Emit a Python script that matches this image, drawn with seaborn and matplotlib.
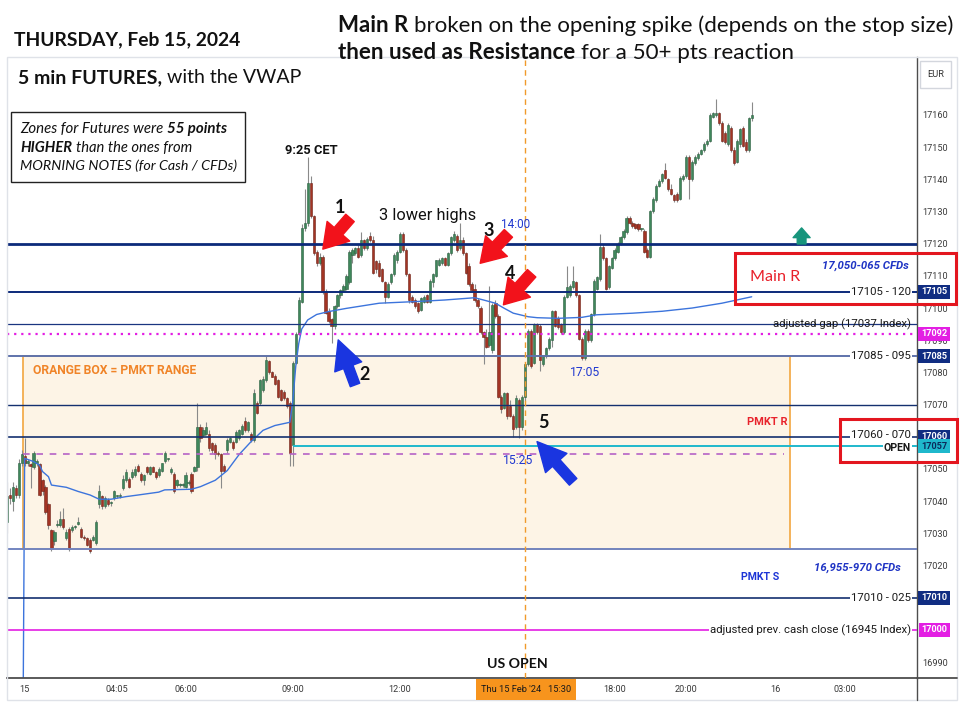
import matplotlib
matplotlib.use("Agg")
import matplotlib.pyplot as plt
from matplotlib.patches import Rectangle
from matplotlib.lines import Line2D
import matplotlib.transforms as mtransforms
import numpy as np
import pandas as pd
import seaborn as sns

# 5-min FDAX bars, Thu 15 Feb 2024, first bar 01:00 CET
open_ = [
    17033.5, 17042, 17040, 17044, 17042, 17052, 17054, 17052, 17051.5, 17050.5,
    17052, 17051.5, 17046.5, 17044.5, 17039, 17031, 17027.5, 17032.5, 17032.5, 17034.5,
    17028.5, 17031.5, 17031, 17032, 17033, 17031.5, 17029, 17028.5, 17028, 17028,
    17027, 17039, 17041.5, 17038.5, 17040.5, 17039.5, 17041, 17041.5, 17041.5, 17044,
    17046.5, 17047, 17047.5, 17048, 17051, 17048.5, 17046.5, 17050.5, 17048.5, 17050.5,
    17049, 17048, 17049.5, 17052.5, 17053, 17049, 17048.5, 17045, 17045, 17045,
    17044.5, 17045.5, 17048.5, 17049.5, 17050.5, 17063, 17060.5, 17061, 17061, 17058,
    17057.5, 17055, 17054.5, 17051, 17056, 17058.5, 17058.5, 17058.5, 17059.5, 17061,
    17065, 17062, 17061, 17059, 17070.5, 17070.5, 17074.5, 17077.5, 17083.5, 17080,
    17079, 17077.5, 17074.5, 17074, 17072, 17070.5, 17057.5, 17083, 17092, 17102,
    17125, 17126.5, 17139, 17128.5, 17117.5, 17114, 17116, 17105, 17099, 17096.5,
    17094.5, 17100.5, 17104, 17105.5, 17106, 17108, 17116.5, 17117, 17118.5, 17116.5,
    17121, 17118.5, 17122.5, 17121, 17114.5, 17114, 17112, 17108, 17103.5, 17108,
    17110.5, 17115, 17117.5, 17123, 17118, 17110.5, 17103.5, 17102.5, 17101.5, 17099.5,
    17102, 17104, 17102, 17108, 17110, 17113.5, 17114, 17115.5, 17113.5, 17117,
    17121, 17122.5, 17118.5, 17121, 17117, 17113, 17107.5, 17106, 17102.5, 17100,
    17092.5, 17091, 17088.5, 17087, 17101.5, 17097.5, 17072.5, 17069, 17073.5, 17069.5,
    17066.5, 17063, 17071.5, 17063, 17072.5, 17082.5, 17093, 17083, 17095, 17094.5,
    17082.5, 17085, 17087.5, 17090, 17099, 17097, 17095, 17092.5, 17103.5, 17104,
    17106.5, 17108, 17104, 17090.5, 17084.5, 17093, 17090, 17098, 17106, 17109,
    17119, 17115.5, 17106.5, 17112.5, 17115.5, 17117.5, 17120, 17122, 17123.5, 17128,
    17126.5, 17126, 17126, 17124.5, 17124, 17118, 17116, 17130, 17133.5, 17138,
    17139.5, 17143, 17140, 17137, 17135, 17135.5, 17134, 17140, 17141, 17147,
    17140, 17145, 17146.5, 17148, 17149, 17151, 17152, 17159.5, 17160, 17160.5,
    17157.5, 17154.5, 17151, 17156, 17149, 17145.5, 17151, 17156, 17151.5, 17149,
    17159,
]
high = [
    17046, 17044, 17046, 17045, 17053, 17056, 17059.5, 17053, 17052, 17055.5,
    17053, 17052, 17047, 17045, 17039.5, 17031.5, 17031, 17034, 17037, 17038,
    17031.5, 17032, 17032.5, 17032.5, 17035, 17032, 17029.5, 17029, 17028.5, 17029.5,
    17034, 17045, 17042, 17041.5, 17041, 17040, 17043.5, 17042, 17042.5, 17048,
    17050, 17047.5, 17050, 17051, 17051.5, 17049, 17048.5, 17051, 17051, 17051,
    17049.5, 17050.5, 17052, 17055.5, 17053.5, 17050.5, 17049, 17047, 17045.5, 17045.5,
    17049, 17046.5, 17049, 17051, 17070.5, 17064, 17063, 17064.5, 17062, 17058.5,
    17058, 17055.5, 17055, 17051.5, 17059.5, 17060, 17059, 17062, 17062.5, 17064,
    17066, 17065, 17061.5, 17075, 17071, 17078, 17079, 17085, 17084, 17080.5,
    17079.5, 17078, 17075, 17074.5, 17072.5, 17071, 17083.5, 17092.5, 17103.5, 17126,
    17137, 17147, 17141, 17129, 17118, 17117, 17116.5, 17106, 17100, 17097,
    17101, 17104.5, 17106, 17107.5, 17110.5, 17118, 17118.5, 17119, 17119.5, 17123.5,
    17121.5, 17122, 17123.5, 17122.5, 17115, 17115, 17112.5, 17108.5, 17108, 17111,
    17117, 17118, 17123.5, 17123.5, 17118.5, 17111, 17104, 17103, 17102, 17103.5,
    17104, 17104.5, 17109, 17111, 17115, 17115.5, 17116, 17116, 17117.5, 17122.5,
    17124, 17123, 17126.5, 17122, 17117.5, 17114, 17108, 17107.5, 17103, 17100.5,
    17093, 17093.5, 17107, 17101.5, 17102.5, 17098, 17073, 17074, 17074, 17071.5,
    17067, 17073, 17072, 17073, 17083, 17093.5, 17093.5, 17095.5, 17095.5, 17095,
    17085.5, 17088, 17091, 17099.5, 17099.5, 17097.5, 17095.5, 17104, 17113, 17107.5,
    17113, 17108.5, 17104.5, 17091, 17093.5, 17093.5, 17098.5, 17109, 17110, 17123,
    17120, 17116, 17113.5, 17116, 17118.5, 17120.5, 17122.5, 17124.5, 17128.5, 17128.5,
    17127, 17126.5, 17126.5, 17125, 17124.5, 17118.5, 17130.5, 17134.5, 17138.5, 17140,
    17142, 17145, 17140.5, 17138.5, 17135.5, 17136, 17141, 17141.5, 17147.5, 17147.5,
    17146, 17147.5, 17148.5, 17149.5, 17151.5, 17152.5, 17160.5, 17161, 17165, 17161,
    17158, 17155, 17157.5, 17156.5, 17150, 17152.5, 17156, 17156.5, 17152.5, 17159.5,
    17164,
]
low = [
    17030, 17039, 17037, 17041, 17041, 17051, 17051, 17051, 17044, 17050,
    17051, 17041.5, 17042, 17036, 17031.5, 17024.5, 17026.5, 17032, 17032, 17031.5,
    17028, 17024.5, 17030.5, 17031.5, 17032.5, 17028.5, 17028, 17026, 17024, 17027.5,
    17026.5, 17038, 17037.5, 17038, 17038.5, 17038.5, 17040.5, 17041, 17041, 17043.5,
    17046, 17044, 17047, 17047.5, 17049, 17046, 17045, 17048.5, 17048, 17049,
    17047, 17047.5, 17049, 17052, 17052.5, 17048.5, 17042.5, 17044.5, 17044.5, 17044.5,
    17044, 17045, 17042.5, 17049, 17049.5, 17058.5, 17060, 17060.5, 17055.5, 17055,
    17053, 17054, 17044, 17049, 17055, 17058, 17056, 17058, 17059, 17060.5,
    17061.5, 17061.5, 17058.5, 17058.5, 17067, 17070, 17074, 17077, 17079.5, 17078.5,
    17076, 17072, 17071, 17071.5, 17069, 17051, 17051, 17082.5, 17091.5, 17101.5,
    17124, 17125.5, 17128, 17116.5, 17113, 17113.5, 17104.5, 17098, 17095.5, 17089,
    17093.5, 17100, 17103, 17105, 17105.5, 17107.5, 17114, 17116.5, 17115.5, 17116,
    17118, 17118, 17120.5, 17110.5, 17111, 17109.5, 17108, 17101.5, 17103, 17107.5,
    17110, 17114, 17117, 17117.5, 17110, 17101.5, 17101.5, 17100, 17098.5, 17099,
    17101.5, 17101.5, 17101.5, 17106.5, 17109.5, 17113, 17113.5, 17113, 17113, 17116.5,
    17120.5, 17117.5, 17118, 17116.5, 17110.5, 17107, 17105, 17102, 17100, 17092,
    17082.5, 17087.5, 17088, 17086, 17097, 17072, 17067.5, 17068.5, 17065.5, 17066,
    17060, 17062.5, 17059.5, 17062, 17071, 17082, 17081.5, 17082.5, 17092, 17080.5,
    17082, 17084.5, 17087, 17088, 17094, 17093.5, 17092, 17092, 17103, 17103.5,
    17106, 17103.5, 17090, 17084, 17084, 17089.5, 17089.5, 17097.5, 17105.5, 17108.5,
    17115, 17105.5, 17106, 17112, 17115, 17117, 17119.5, 17121.5, 17123, 17126,
    17125, 17124.5, 17124, 17124, 17117, 17115.5, 17115.5, 17129.5, 17133, 17137.5,
    17139, 17140, 17136.5, 17135, 17133, 17133, 17133.5, 17139.5, 17140.5, 17134,
    17139.5, 17144.5, 17146, 17147.5, 17148.5, 17150.5, 17151.5, 17159, 17159.5, 17157,
    17151.5, 17151, 17150.5, 17148.5, 17144.5, 17145, 17150, 17150, 17148.5, 17148.5,
    17158,
]
close = [
    17041.5, 17041, 17044.5, 17042, 17052, 17054.5, 17052, 17052.5, 17051, 17055,
    17052, 17042, 17043, 17036.5, 17032.5, 17025, 17030.5, 17033, 17034.5, 17032,
    17030.5, 17025, 17032, 17032, 17033.5, 17029, 17028.5, 17026.5, 17024.5, 17029,
    17033.5, 17043, 17038.5, 17041, 17039, 17039.5, 17043, 17041.5, 17042, 17047,
    17049, 17044.5, 17049, 17050, 17049.5, 17046.5, 17048, 17049, 17050.5, 17049,
    17047.5, 17050, 17052, 17055, 17053, 17050, 17043, 17046.5, 17045, 17045,
    17048, 17045.5, 17043, 17050.5, 17063, 17059.5, 17062, 17063, 17056.5, 17056,
    17054.5, 17054.5, 17049.5, 17049.5, 17059, 17059.5, 17056.5, 17061.5, 17062, 17063.5,
    17062, 17064.5, 17059, 17073.5, 17067.5, 17077.5, 17078, 17084, 17080, 17078.5,
    17076.5, 17072.5, 17071.5, 17072, 17069.5, 17055, 17083, 17092, 17102.5, 17125,
    17126.5, 17139, 17128.5, 17117, 17114, 17116, 17105, 17098.5, 17096, 17094.5,
    17100.5, 17104, 17105.5, 17107, 17110, 17117.5, 17118, 17118.5, 17116, 17121,
    17118.5, 17121.5, 17121, 17111, 17112, 17110, 17108.5, 17103.5, 17107.5, 17110.5,
    17116.5, 17117.5, 17123, 17118, 17110.5, 17102.5, 17102, 17100.5, 17099, 17103,
    17103.5, 17102, 17108.5, 17110.5, 17115, 17115, 17115.5, 17113.5, 17117, 17122,
    17123, 17118, 17121, 17117, 17111, 17107.5, 17105.5, 17102.5, 17100.5, 17092.5,
    17091, 17088, 17092.5, 17101, 17097.5, 17072.5, 17068.5, 17073.5, 17066.5, 17066.5,
    17062.5, 17072, 17063, 17072.5, 17082.5, 17093, 17082, 17095, 17092.5, 17084,
    17085, 17087.5, 17090.5, 17099, 17094.5, 17094, 17092.5, 17103.5, 17106.5, 17107,
    17108.5, 17104, 17090.5, 17084.5, 17093, 17090, 17098, 17108.5, 17109.5, 17119,
    17115.5, 17106, 17113, 17115.5, 17118, 17120, 17122, 17124, 17128, 17126.5,
    17125.5, 17125, 17124.5, 17124.5, 17117.5, 17116, 17130, 17134, 17138, 17139.5,
    17141.5, 17140.5, 17137, 17135.5, 17133.5, 17133.5, 17140.5, 17141, 17147, 17140,
    17145.5, 17147, 17148, 17149, 17151, 17152, 17160, 17160.5, 17160.5, 17157.5,
    17152, 17151.5, 17157, 17149, 17145, 17152, 17155.5, 17150.5, 17149, 17159,
    17160,
]

# session VWAP, sampled at these bar numbers
vwap_bar = [5, 6, 9, 11, 12, 14, 15, 20, 24, 28, 31, 35, 40, 44, 51, 53, 62, 65, 70, 74,
            78, 82, 86, 90, 95, 96, 97, 98, 99, 101, 104, 108, 114, 125, 137, 147, 157, 160,
            164, 167, 170, 175, 178, 185, 193, 198, 210, 220, 230, 240, 250]
vwap = [16900, 17053.3, 17052.3, 17051.2, 17049.2, 17047.6, 17045.0, 17044.3, 17043.0, 17041.9,
        17040.6, 17040.6, 17041.4, 17041.9, 17042.8, 17043.5, 17043.7, 17044.5, 17046.5, 17049.5,
        17054.5, 17058.5, 17062.0, 17063.5, 17064.5, 17071.0, 17082.0, 17089.0, 17093.5, 17096.3,
        17098.0, 17098.9, 17099.9, 17101.5, 17102.0, 17102.5, 17103.2, 17102.5, 17101.5, 17099.9,
        17098.4, 17097.3, 17097.0, 17096.8, 17097.1, 17097.9, 17098.4, 17099.0, 17100.0, 17101.5,
        17103.5]

# zones (futures)
zone_lines = [17120, 17105, 17095, 17085, 17070, 17060, 17025, 17010]
gap_level = 17092
open_level = 17057
pmkt_mid = 17054.5
prev_close_level = 17000
pmkt_range = [17025, 17085]

level_label_prices = [17105, 17095, 17085, 17060, 17010, 17000]
level_labels = ["17105 - 120", "adjusted gap (17037 Index)", "17085 - 095",
                "17060 - 070", "17010 - 025", "adjusted prev. cash close (16945 Index)"]
tag_prices = [17105, 17092, 17085, 17060, 17057, 17010, 17000]
tag_kinds = ["zone", "gap", "zone", "zone", "open", "zone", "gap"]

price_ticks = [16990, 17000, 17010, 17020, 17030, 17040, 17050, 17060, 17070, 17080,
               17090, 17100, 17110, 17120, 17130, 17140, 17150, 17160, 17170]
time_ticks = [1.5, 4.0833, 6, 9, 12, 18, 20, 22.5, 24.45]
time_labels = ["15", "04:05", "06:00", "09:00", "12:00", "18:00", "20:00", "16", "03:00"]

UP, UP_E = "#3f875b", "#2b5f40"
DN, DN_E = "#a33424", "#6e2218"
WICK = "#8a8a8a"
NAVY = "#102d82"
MAGENTA = "#e31ee3"
CYAN = "#1fb8cc"
TV_FONT = ["Roboto", "DejaVu Sans"]

sns.set_theme(style="white")
plt.rcParams["font.family"] = ["Lato", "DejaVu Sans"]

W, H = 960, 710
fig = plt.figure(figsize=(9.6, 7.1), dpi=100)
fig.patch.set_facecolor("white")
ax = fig.add_axes([7 / W, 32 / H, 910 / W, 621 / H])
renderer = fig.canvas.get_renderer()

df = pd.DataFrame({"open": open_, "high": high, "low": low, "close": close})
df["hour"] = 1.0 + np.arange(len(df)) / 12.0
up = df["close"] >= df["open"]

# orange PMKT box
box_t0, box_t1 = 1.45, 22.9
ax.add_patch(Rectangle((box_t0, pmkt_range[0]), box_t1 - box_t0, pmkt_range[1] - pmkt_range[0],
                       facecolor="#fdf4e6", edgecolor="#f2a640", lw=1.2, zorder=0.5))

# candles
ax.vlines(df["hour"], df["low"], df["high"], color=WICK, lw=0.8, zorder=2)
body_lo = df[["open", "close"]].min(axis=1)
body_h = (df["close"] - df["open"]).abs().clip(lower=0.35)
ax.bar(df["hour"], body_h, bottom=body_lo, width=0.062,
       color=np.where(up, UP, DN), edgecolor=np.where(up, UP_E, DN_E), linewidth=0.4, zorder=2.2)

# VWAP
vw = pd.DataFrame({"hour": 1.0 + np.array(vwap_bar) / 12.0, "vwap": vwap})
sns.lineplot(data=vw, x="hour", y="vwap", ax=ax, color="#3c74dc", lw=1.0, sort=False, zorder=2.5)

# level lines
line_style = {
    17120: dict(color="#0c2a7a", lw=2.0),
    17105: dict(color="#0c2a7a", lw=1.4),
    17095: dict(color="#1a3580", lw=0.9),
    17085: dict(color="#5f73ab", lw=1.4),
    17070: dict(color="#14306f", lw=1.0),
    17060: dict(color="#14306f", lw=1.2),
    17025: dict(color="#7385c0", lw=1.4),
    17010: dict(color="#14306f", lw=1.2),
}
for lv in zone_lines:
    ax.axhline(lv, zorder=3, **line_style[lv])
ax.axhline(gap_level, color=MAGENTA, lw=1.6, ls=(0, (1, 2.2)), zorder=3)
ax.axhline(prev_close_level, color=MAGENTA, lw=1.2, zorder=3)
session_open = df["hour"].iloc[96]
ax.hlines(open_level, session_open, 26.46, color=CYAN, lw=1.4, zorder=3)
ax.hlines(pmkt_mid, box_t0, 22.75, color="#b562c6", lw=1.2, ls=(0, (4, 4)), zorder=3)
ax.axvline(15.5, color="#f09a2a", lw=1.0, ls=(0, (4, 3)), zorder=3)

ax.set_xlim(1.007, 26.457)
ax.set_ylim(16985.05, 17178.0)
ax.set_xlabel("")
ax.set_ylabel("")
ax.grid(False)
ax.yaxis.tick_right()
ax.set_yticks(price_ticks)
ax.set_yticklabels([str(p) for p in price_ticks], fontsize=6.6, color="#3a3a3a", family=TV_FONT)
ax.set_xticks(time_ticks)
ax.set_xticklabels(time_labels, fontsize=6.6, color="#3a3a3a", family=TV_FONT)
ax.tick_params(axis="y", length=0, pad=3.5)
ax.tick_params(axis="x", length=0, pad=5)
for s in ["top", "left"]:
    ax.spines[s].set_visible(False)
ax.spines["bottom"].set_color("#4d4d4d")
ax.spines["bottom"].set_linewidth(1.3)
ax.spines["right"].set_color("#4d4d4d")
ax.spines["right"].set_linewidth(1.0)


def fit(t, width):
    w = t.get_window_extent(renderer).width
    t.set_fontsize(t.get_fontsize() * width / w)
    return t


def ftext(x, y, s, width=None, **kw):
    kw.setdefault("ha", "center")
    kw.setdefault("va", "center")
    kw.setdefault("fontsize", 10)
    t = fig.text(x / W, 1 - y / H, s, **kw)
    if width:
        fit(t, width)
    return t


def rich(x, y, parts, width, gap=0.25, **kw):
    texts = [fig.text(0, 1 - y / H, s, fontsize=12, fontweight=wt, fontstyle=st,
                      va="baseline", ha="left", **kw) for s, wt, st in parts]
    em = 12 * 100 / 72
    total = sum(t.get_window_extent(renderer).width for t in texts) + gap * em * (len(texts) - 1)
    size = 12 * width / total
    cur = x
    for t in texts:
        t.set_fontsize(size)
        t.set_x(cur / W)
        cur += t.get_window_extent(renderer).width + gap * size * 100 / 72


# header
rich(14, 45, [("THURSDAY, Feb 15, 2024", "bold", "normal")], 225, color="#111111")
rich(338, 32, [("Main R", "bold", "normal"),
               ("broken on the opening spike (depends on the stop size)", "normal", "normal")], 610,
     color="#111111")
rich(338, 59, [("then used as Resistance", "bold", "normal"),
               ("for a 50+ pts reaction", "normal", "normal")], 452, color="#111111")
rich(18, 83, [("5 min FUTURES,", "bold", "normal"), ("with the VWAP", "normal", "normal")], 282,
     color="#111111")

# note box
fig.add_artist(Rectangle((11 / W, 1 - 182 / H), 234 / W, 70 / H, transform=fig.transFigure,
                         facecolor="white", edgecolor="#222222", lw=1.0, zorder=2))
rich(20, 133, [("Zones for Futures were", "normal", "italic"), ("55 points", "bold", "italic")], 206,
     color="#111111", zorder=3)
rich(20, 152, [("HIGHER", "bold", "italic"), ("than the ones from", "normal", "italic")], 172,
     color="#111111", zorder=3)
rich(20, 170, [("MORNING NOTES (for Cash / CFDs)", "normal", "italic")], 216,
     color="#111111", zorder=3)

# chart annotations
ftext(311, 150, "9:25 CET", 53, weight="bold", family=TV_FONT, color="#111111")
for s, x, y in [("1", 340, 207), ("2", 365, 374), ("3", 489, 231), ("4", 510, 274), ("5", 543, 423)]:
    ftext(x, y, s, weight="bold", fontsize=13, color="#111111")
ftext(428, 215, "3 lower highs", 97, family=TV_FONT, color="#111111")
ftext(516, 224, "14:00", 29, family=TV_FONT, color="#2038d0")
ftext(518, 461, "15:25", 30, family=TV_FONT, color="#2038d0")
ftext(585, 373, "17:05", 30, family=TV_FONT, color="#2038d0")
ftext(33, 371, "ORANGE BOX = PMKT RANGE", 163, ha="left", weight="bold", family=TV_FONT,
      color="#f08428")
ftext(767, 422, "PMKT R", 40, weight="bold", family=TV_FONT, color="#e8232c")
ftext(760, 577, "PMKT S", 38, weight="bold", family=TV_FONT, color="#1d35d6")
ftext(857, 568, "16,955-970 CFDs", 87, weight="bold", style="italic", family=TV_FONT, color="#1f34c4")
ftext(865, 266, "17,050-065 CFDs", 87, weight="bold", style="italic", family=TV_FONT, color="#1f34c4")
ftext(775, 277, "Main R", 50, color="#e8202a")
ftext(517, 664, "US OPEN", 61, weight="bold", color="#111111")

# level labels on the right of the chart
label_x = 26.29
for p, s in zip(level_label_prices, level_labels):
    boxed = not s.startswith("adjusted gap")
    ax.text(label_x, p + (0.4 if p == 17060 else 0), s, ha="right", va="center", family=TV_FONT,
            fontsize=8.2, color="#1a1a1a", zorder=4,
            bbox=dict(boxstyle="square,pad=0.08", fc="white", ec="none") if boxed else None)
ax.text(label_x, open_level - 0.5, "OPEN", ha="right", va="center", family=TV_FONT, fontsize=7.6,
        weight="bold", color="#1a1a1a", zorder=4.5,
        bbox=dict(boxstyle="square,pad=0.05", fc="white", ec="none"))

# price tags on the axis
tag_colors = {"zone": (NAVY, "white"), "gap": (MAGENTA, "white"), "open": (CYAN, "#0b2a5a")}
trans = mtransforms.blended_transform_factory(ax.transAxes, ax.transData)
for p, k in zip(tag_prices, tag_kinds):
    fc, tc = tag_colors[k]
    ax.text(1.0187, p, str(p), transform=trans, ha="center", va="center", family=TV_FONT,
            fontsize=6.6, weight="bold", color=tc, zorder=5, clip_on=False,
            bbox=dict(boxstyle="square,pad=0.28", fc=fc, ec="none"))


# arrows
def arrow(tail, tip, color, scale, style):
    ax.annotate("", xy=tip, xytext=tail, annotation_clip=False, zorder=6,
                arrowprops=dict(arrowstyle=style, fc=color, ec=color, mutation_scale=scale,
                                shrinkA=0, shrinkB=0))


RED_STYLE = "simple,head_length=0.95,head_width=1.2,tail_width=0.45"
BLUE_STYLE = "simple,head_length=1.15,head_width=1.15,tail_width=0.4"
arrow((10.60, 17128.0), (9.84, 17118.3), "#f2121b", 18, RED_STYLE)
arrow((15.03, 17123.2), (14.24, 17113.9), "#f2121b", 18, RED_STYLE)
arrow((15.68, 17110.8), (14.89, 17101.0), "#f2121b", 18, RED_STYLE)
arrow((10.74, 17076.1), (10.27, 17090.1), "#1a35e0", 18, BLUE_STYLE)
arrow((16.84, 17046.0), (15.83, 17058.5), "#1a35e0", 18, BLUE_STYLE)
arrow((23.23, 17119.9), (23.23, 17124.9), "#17957c", 7,
      "simple,head_length=1.0,head_width=1.75,tail_width=0.9")

# x-axis highlight for 15:30
fig.add_artist(Rectangle((476 / W, 1 - 700 / H), 100 / W, 21 / H, transform=fig.transFigure,
                         facecolor="#f7941d", edgecolor="none", zorder=2))
ftext(526, 689.5, "Thu 15 Feb '24   15:30", 90, family=TV_FONT, color="#1a1a1a", zorder=3)

# EUR box
fig.add_artist(Rectangle((920 / W, 1 - 88 / H), 31 / W, 27 / H, transform=fig.transFigure,
                         facecolor="white", edgecolor="#d3d6dd", lw=1.0, zorder=2))
ftext(935.5, 74.5, "EUR", 17, family=TV_FONT, color="#333333", zorder=3)

# panel frame and red highlight boxes
fig.add_artist(Rectangle((7 / W, 1 - 700 / H), 950 / W, 643 / H, transform=fig.transFigure,
                         fill=False, edgecolor="#dfe2e8", lw=1.0, zorder=1))
fig.add_artist(Line2D([917 / W, 957 / W], [1 - 678 / H] * 2, transform=fig.transFigure,
                      color="#4d4d4d", lw=1.3, zorder=1))
fig.add_artist(Line2D([917 / W] * 2, [1 - 678 / H, 1 - 700 / H], transform=fig.transFigure,
                      color="#4d4d4d", lw=1.0, zorder=1))
for x0, y0, x1, y1 in [(735, 253, 956, 304), (840, 419, 957, 462)]:
    fig.add_artist(Rectangle((x0 / W, 1 - y1 / H), (x1 - x0) / W, (y1 - y0) / H,
                             transform=fig.transFigure, fill=False, edgecolor="#e3161f",
                             lw=2.2, zorder=4))

fig.savefig("out.png", dpi=100)
